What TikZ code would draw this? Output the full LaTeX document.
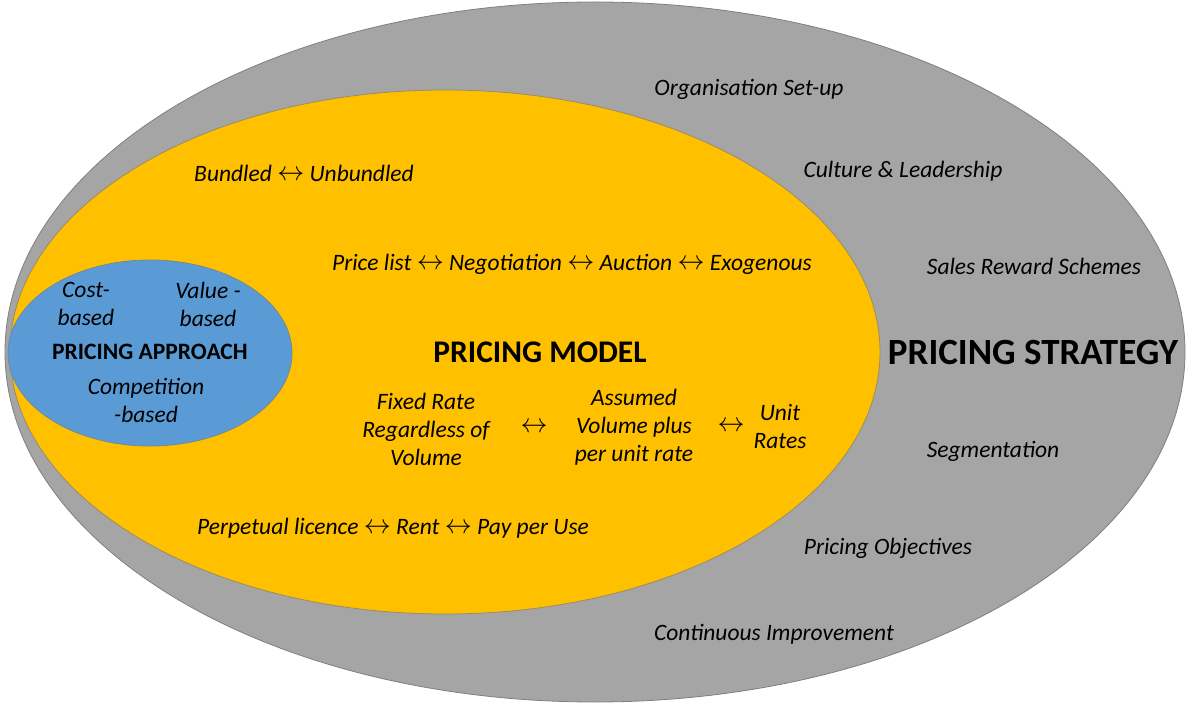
\documentclass[tikz,border=0pt]{standalone}
\usepackage{fontspec}
\usepackage{graphicx}
\setmainfont{Carlito}
\definecolor{stratgray}{HTML}{A5A5A5}
\definecolor{modelyellow}{HTML}{FFC000}
\definecolor{apprblue}{HTML}{5B9BD5}
\definecolor{edgegray}{HTML}{7F7F7F}
\newcommand{\bigarrow}{\raisebox{1pt}{\resizebox{27pt}{!}{$\leftrightarrow$}}}
\newcommand{\lra}{ \bigarrow{} }
\tikzset{
  txt/.style={font=\fontsize{23.5}{28}\selectfont\itshape, align=center, inner sep=0pt, text=black},
  bigtitle/.style={font=\fontsize{37}{40}\selectfont\bfseries, inner sep=0pt},
  midtitle/.style={font=\fontsize{31.5}{34}\selectfont\bfseries, inner sep=0pt},
  smalltitle/.style={font=\fontsize{23.5}{28}\selectfont\bfseries, inner sep=0pt},
  arr/.style={inner sep=0pt}
}
\begin{document}
\begin{tikzpicture}[x=1pt,y=-1pt]
\useasboundingbox (0,0) rectangle (1200,708);
% ellipses
\draw[fill=stratgray, draw=edgegray, line width=0.8pt] (595,352) ellipse [x radius=590, y radius=350];
\draw[fill=modelyellow, draw=edgegray!80!modelyellow, line width=0.8pt] (445,352) ellipse [x radius=435, y radius=262];
\draw[fill=apprblue, draw=edgegray!70!apprblue, line width=0.8pt] (150,353) ellipse [x radius=142, y radius=93];
% strategy
\node[txt] (org) at (749,89) {Organisation Set-up};
\node[txt] (cult) at (903,171) {Culture \& Leadership};
\node[txt] (sales) at (1034,266) {Sales Reward Schemes};
\node[bigtitle] (strat) at (1033,352) {PRICING STRATEGY};
\node[txt] (seg) at (993,451) {Segmentation};
\node[txt] (obj) at (888,548) {Pricing Objectives};
\node[txt] (cont) at (774,634) {Continuous Improvement};
% model
\node[txt] (bund) at (304,173) {Bundled\lra Unbundled};
\node[txt] (plist) at (572,264) {Price list\lra Negotiation\lra Auction\lra Exogenous};
\node[midtitle] (model) at (540,352) {PRICING MODEL};
\node[txt] (fixed) at (426,429) {Fixed Rate\\Regardless of\\Volume};
\node[arr] (a1) at (534,428) {\bigarrow};
\node[txt] (assumed) at (634,427) {Assumed\\Volume plus\\per unit rate};
\node[arr] (a2) at (731,427) {\bigarrow};
\node[txt] (unit) at (780,427) {Unit\\Rates};
\node[txt] (perp) at (393,528) {Perpetual licence\lra Rent\lra Pay per Use};
% approach
\node[txt] (cost) at (86,304) {Cost-\\based};
\node[txt] (value) at (208,304) {Value -\\based};
\node[smalltitle] (appr) at (150,352) {PRICING APPROACH};
\node[txt] (comp) at (146,400) {Competition\\-based};
\end{tikzpicture}
\end{document}
